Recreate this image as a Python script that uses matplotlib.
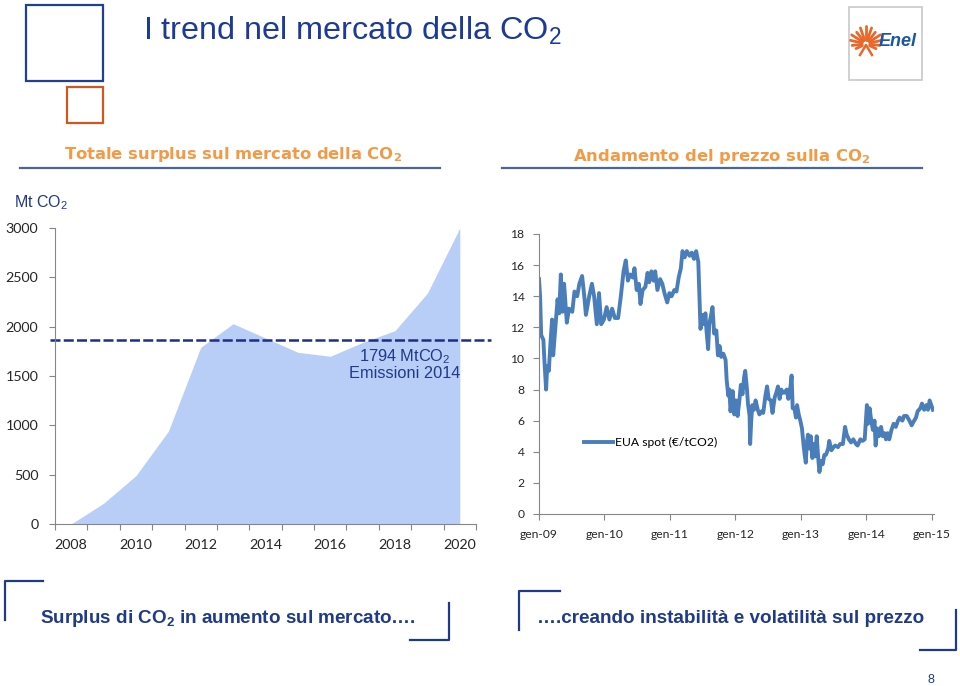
import numpy as np
import matplotlib
matplotlib.use("Agg")
import matplotlib.pyplot as plt
from matplotlib.patches import Rectangle

plt.rcParams['mathtext.default'] = 'regular'

# DATI - surplus totale sul mercato CO2 (Mt)
anni = [2008, 2009, 2010, 2011, 2012, 2013, 2014, 2015, 2016, 2017, 2018, 2019, 2020]
surplus = [0, 210, 490, 940, 1790, 2030, 1885, 1740, 1700, 1840, 1960, 2340, 3000]
etichette_anni = ["2008", "2010", "2012", "2014", "2016", "2018", "2020"]
emissioni_2014 = 1794
linea_emissioni = 1865   # la linea tratteggiata sulla slide sta un po' sopra

# DATI - prezzo EUA spot (mesi da gen-09, euro/tCO2)
mesi = [0.0, 0.2, 0.4, 0.8, 1.0, 1.3, 1.5, 1.8, 2.1, 2.4, 2.6, 3.0, 3.4, 3.7, 4.0, 4.3, 4.6,
        5.1, 5.5, 6.1, 6.5, 7.0, 7.4, 7.9, 8.3, 8.6, 9.2, 9.7, 10.1, 10.6, 11.0, 11.4, 11.9,
        12.4, 12.9, 13.4, 13.9, 14.5, 15.0, 15.5, 15.9, 16.3, 16.7, 17.2, 17.5, 17.9, 18.3,
        18.6, 19.0, 19.5, 19.9, 20.2, 20.6, 21.0, 21.3, 21.7, 22.2, 22.6, 23.0, 23.5, 23.9,
        24.3, 24.8, 25.2, 25.6, 26.0, 26.3, 26.7, 27.1, 27.6, 28.0, 28.4, 28.8, 29.2, 29.4,
        29.6, 30.0, 30.3, 30.5, 30.7, 31.0, 31.2, 31.6, 31.8, 32.1, 32.5, 32.8, 33.1, 33.4,
        33.8, 34.2, 34.4, 34.7, 34.9, 35.1, 35.5, 35.8, 36.1, 36.4, 36.7, 37.0, 37.3, 37.6,
        37.8, 38.1, 38.3, 38.6, 38.7, 38.9, 39.1, 39.4, 39.7, 40.1, 40.4, 40.8, 41.1, 41.5,
        41.8, 42.1, 42.5, 42.8, 43.2, 43.5, 43.8, 44.1, 44.4, 44.7, 45.0, 45.4, 45.7, 46.1,
        46.3, 46.5, 46.8, 47.1, 47.3, 47.6, 47.9, 48.2, 48.5, 48.7, 48.9, 49.1, 49.3, 49.6,
        49.8, 50.1, 50.3, 50.6, 50.9, 51.2, 51.4, 51.7, 52.0, 52.3, 52.6, 53.0, 53.2, 53.6,
        54.0, 54.3, 54.8, 55.2, 55.7, 56.1, 56.4, 56.8, 57.2, 57.6, 58.1, 58.4, 58.9, 59.3,
        59.7, 60.1, 60.3, 60.6, 60.9, 61.2, 61.5, 61.7, 62.0, 62.3, 62.7, 63.0, 63.3, 63.6,
        63.9, 64.2, 64.6, 65.0, 65.4, 65.8, 66.1, 66.6, 66.9, 67.4, 67.9, 68.3, 68.6, 69.1,
        69.4, 69.9, 70.2, 70.6, 71.0, 71.3, 71.6, 71.9, 72.2]
prezzo = [15.1, 14.0, 11.5, 11.2, 9.8, 8.0, 9.5, 9.2, 11.0, 12.5, 10.2, 12.0, 13.8, 12.9, 15.4,
          13.0, 14.8, 12.3, 13.2, 13.0, 14.3, 14.0, 14.8, 15.3, 14.0, 12.8, 14.0, 14.8, 14.0,
          12.2, 14.2, 12.2, 12.5, 13.3, 12.5, 13.2, 12.6, 12.6, 14.0, 15.6, 16.3, 15.0, 15.4,
          15.2, 15.8, 14.4, 14.8, 13.5, 14.4, 14.6, 15.5, 14.9, 15.6, 15.0, 15.6, 14.4, 15.1,
          14.8, 14.2, 13.6, 14.2, 14.0, 14.4, 14.3, 15.2, 15.8, 16.9, 16.5, 16.9, 16.6, 16.8,
          16.4, 16.9, 16.2, 14.0, 11.9, 12.8, 12.2, 12.9, 11.8, 10.6, 12.2, 12.9, 13.3, 11.6,
          11.8, 10.2, 10.8, 10.1, 10.3, 9.9, 8.6, 7.6, 8.0, 6.6, 7.9, 6.4, 7.3, 6.3, 7.2, 8.3,
          7.7, 8.8, 9.2, 8.1, 7.1, 6.3, 4.5, 6.0, 7.0, 6.7, 7.3, 6.7, 6.4, 6.6, 6.5, 7.6, 8.2,
          7.4, 7.3, 6.5, 7.5, 7.8, 8.2, 7.4, 8.0, 7.8, 7.8, 8.0, 7.4, 8.2, 8.9, 6.8, 6.8, 6.2,
          7.0, 6.4, 6.0, 5.5, 4.4, 3.8, 3.3, 4.6, 5.1, 4.2, 5.0, 3.6, 4.5, 3.7, 5.0, 3.5, 2.7,
          3.4, 3.2, 3.8, 3.8, 4.2, 4.7, 4.1, 4.3, 4.4, 4.3, 4.5, 4.5, 5.6, 5.1, 4.8, 4.6, 4.8,
          4.5, 4.4, 4.8, 4.7, 4.8, 7.0, 5.8, 6.8, 6.0, 5.4, 6.0, 4.4, 5.5, 5.0, 5.6, 5.0, 5.2,
          4.8, 5.2, 4.8, 5.4, 5.8, 5.6, 6.0, 6.2, 6.0, 6.3, 6.3, 6.0, 5.7, 5.9, 6.2, 6.6, 6.8,
          7.1, 6.7, 7.0, 6.7, 7.3, 7.0, 6.7]
tick_mesi = [0, 12, 24, 36, 48, 60, 72]
etichette_mesi = ["gen-09", "gen-10", "gen-11", "gen-12", "gen-13", "gen-14", "gen-15"]

# COLORI
blu = "#1C3A96"
navy = "#1F3A8A"
arancio = "#F29A45"
grigio = "#868686"
W, H = 960, 686

fig = plt.figure(figsize=(9.6, 6.86), dpi=100)
fig.patch.set_facecolor("white")

# sfondo slide in pixel
ov = fig.add_axes([0, 0, 1, 1], zorder=-1)
ov.set_xlim(0, W)
ov.set_ylim(H, 0)
ov.axis("off")

ov.add_patch(Rectangle((26, 5), 77, 76, fill=False, ec="#1F3F99", lw=1.6))
ov.add_patch(Rectangle((67, 87), 36, 36, fill=False, ec="#D2561E", lw=1.6))
ov.text(143, 31, "I trend nel mercato della CO$_2$", fontsize=23.3, color=blu,
        family="Liberation Sans", va="center", ha="left")

# logo Enel
ov.add_patch(Rectangle((849, 7), 73, 73, fc="white", ec="#C8C8C8", lw=1.2))
for ang, r in zip(np.linspace(-25, 205, 13), [11, 14, 16, 17, 15, 17, 18, 17, 15, 17, 16, 14, 11]):
    a = np.deg2rad(ang)
    ov.plot([866 + 4 * np.cos(a), 866 + r * np.cos(a)], [44 - 4 * np.sin(a), 44 - r * np.sin(a)],
            color="#E8692B", lw=2.0, solid_capstyle="round")
ov.plot([860, 866, 872], [55, 45, 55], color="#E8692B", lw=1.8)
ov.text(879, 41, "Enel", fontsize=13, color="#1B55A5", family="Liberation Sans",
        fontweight="bold", fontstyle="italic", va="center", ha="left")

# sottotitoli
ov.text(64, 155, "Totale surplus sul mercato della CO$_2$", fontsize=11.8, color=arancio,
        family="DejaVu Sans", fontweight="bold", va="center")
ov.text(573, 156, "Andamento del prezzo sulla CO$_2$", fontsize=11.8, color=arancio,
        family="DejaVu Sans", fontweight="bold", va="center")
ov.plot([20, 440], [168, 168], color="#4A6696", lw=1.6)
ov.plot([502, 922], [168, 168], color="#4A6696", lw=1.6)
ov.text(14, 203, "Mt CO$_2$", fontsize=11.5, color=navy, family="Liberation Sans", va="center")

# riquadri in basso
ov.plot([43, 5, 5], [581, 581, 620], color=navy, lw=1.6)
ov.plot([449, 449, 410], [603, 640, 640], color=navy, lw=1.6)
ov.plot([560, 519, 519], [591, 591, 630], color=navy, lw=1.6)
ov.plot([956, 956, 920], [610, 650, 650], color=navy, lw=1.6)
ov.text(40, 623, "Surplus di CO$_2$ in aumento sul mercato….", fontsize=13.6, color=navy,
        family="Liberation Sans", fontweight="bold", va="baseline")
ov.text(537, 623, "….creando instabilità e volatilità sul prezzo", fontsize=13.6, color=navy,
        family="Liberation Sans", fontweight="bold", va="baseline")
ov.text(927, 680, "8", fontsize=9, color=navy, family="Liberation Sans", va="center")

# GRAFICO SURPLUS
ax1 = fig.add_axes([55 / W, 1 - 524 / H, 421 / W, 296 / H])
ax1.set_facecolor("none")
x = np.arange(len(anni))
ax1.fill_between(x, surplus, color="#B8CEF6", lw=0)
ax1.set_xlim(-0.5, len(anni) - 0.5)
ax1.set_ylim(0, 3000)
ax1.set_xticks(np.arange(-0.5, len(anni), 1))
ax1.set_xticklabels([])
ax1.set_xticks(x[::2], minor=True)
ax1.set_xticklabels(etichette_anni, minor=True, family="Lato", fontsize=10.3, color="#262626")
ax1.tick_params(axis="x", which="minor", length=0, pad=11)
ax1.tick_params(axis="x", which="major", length=4, color=grigio, width=0.8)
ax1.set_yticks(range(0, 3001, 500))
ax1.set_yticklabels([str(v) for v in range(0, 3001, 500)], family="Lato", fontsize=10.3, color="#262626")
ax1.tick_params(axis="y", length=4, pad=8, color=grigio, width=0.8)
for s in ["top", "right"]:
    ax1.spines[s].set_visible(False)
for s in ["left", "bottom"]:
    ax1.spines[s].set_color(grigio)
    ax1.spines[s].set_linewidth(0.8)

ax1.plot([-0.65, 12.95], [linea_emissioni, linea_emissioni], ls=(0, (4, 1.3)), color="#1F2D8A",
         lw=1.8, clip_on=False)
ax1.text(10.3, 1616, "%d MtCO$_2$\nEmissioni 2014" % emissioni_2014, ha="center", va="center",
         color=navy, fontsize=11.8, family="Liberation Sans", linespacing=1.0)

# GRAFICO PREZZO
ax2 = fig.add_axes([539 / W, 1 - 514 / H, 395 / W, 280 / H])
ax2.set_facecolor("none")
ax2.plot(mesi, prezzo, color="#4A7EBB", lw=2.8, label="EUA spot (€/tCO2)")
ax2.set_xlim(0, 72.4)
ax2.set_ylim(0, 18)
ax2.set_xticks(tick_mesi)
ax2.set_xticklabels(etichette_mesi, family="Lato", fontsize=8.7, color="#262626")
ax2.set_yticks(range(0, 19, 2))
ax2.set_yticklabels([str(v) for v in range(0, 19, 2)], family="Lato", fontsize=8.7, color="#262626")
ax2.tick_params(length=4, pad=6.5, color=grigio, width=0.8)
for s in ["top", "right"]:
    ax2.spines[s].set_visible(False)
for s in ["left", "bottom"]:
    ax2.spines[s].set_color(grigio)
    ax2.spines[s].set_linewidth(0.8)
ax2.legend(loc="center left", bbox_to_anchor=(0.114, 0.254), frameon=False, borderpad=0,
           borderaxespad=0, handlelength=2.4, handletextpad=0.2,
           prop={"family": "Lato", "size": 8.7})

fig.savefig("out.png", dpi=100)
